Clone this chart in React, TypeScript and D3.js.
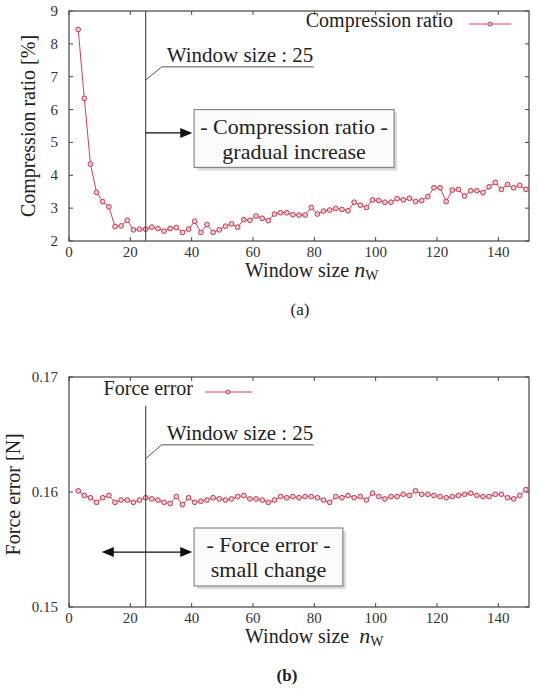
import * as d3 from 'd3';

// window sizes n_W (odd values 3..149)
const windowSizes = [
  3, 5, 7, 9, 11, 13, 15, 17, 19, 21,
  23, 25, 27, 29, 31, 33, 35, 37, 39, 41,
  43, 45, 47, 49, 51, 53, 55, 57, 59, 61,
  63, 65, 67, 69, 71, 73, 75, 77, 79, 81,
  83, 85, 87, 89, 91, 93, 95, 97, 99, 101,
  103, 105, 107, 109, 111, 113, 115, 117, 119, 121,
  123, 125, 127, 129, 131, 133, 135, 137, 139, 141,
  143, 145, 147, 149,
];

const compressionRatio = [
  8.44, 6.34, 4.34, 3.48, 3.2, 3.04, 2.44, 2.46, 2.63, 2.34,
  2.36, 2.36, 2.42, 2.38, 2.3, 2.38, 2.41, 2.26, 2.36, 2.6,
  2.26, 2.5, 2.26, 2.34, 2.45, 2.52, 2.42, 2.65, 2.63, 2.76,
  2.69, 2.62, 2.82, 2.86, 2.86, 2.8, 2.79, 2.79, 3.02, 2.82,
  2.91, 2.94, 2.99, 2.96, 2.92, 3.18, 3.09, 3.02, 3.25, 3.23,
  3.18, 3.18, 3.29, 3.25, 3.3, 3.2, 3.23, 3.35, 3.62, 3.62,
  3.2, 3.55, 3.57, 3.37, 3.53, 3.53, 3.47, 3.65, 3.78, 3.57,
  3.72, 3.62, 3.69, 3.57,
];

const forceError = [
  0.1601, 0.1597, 0.1595, 0.1591, 0.1595, 0.1597, 0.1591, 0.1593, 0.1593, 0.1591,
  0.1593, 0.1595, 0.1594, 0.1593, 0.1591, 0.159, 0.1596, 0.1589, 0.1595, 0.1591,
  0.1592, 0.1593, 0.1595, 0.1594, 0.1593, 0.1594, 0.1596, 0.1597, 0.1594, 0.1594,
  0.1593, 0.1591, 0.1593, 0.1596, 0.1595, 0.1596, 0.1595, 0.1596, 0.1596, 0.1595,
  0.1593, 0.1591, 0.1596, 0.1595, 0.1597, 0.1595, 0.1596, 0.1593, 0.1599, 0.1596,
  0.1594, 0.1596, 0.1596, 0.1598, 0.1597, 0.1601, 0.1598, 0.1598, 0.1597, 0.1596,
  0.1595, 0.1596, 0.1597, 0.1598, 0.1599, 0.1597, 0.1596, 0.1596, 0.1598, 0.1598,
  0.1595, 0.1594, 0.1597, 0.1602,
];

const xTicks = [0, 20, 40, 60, 80, 100, 120, 140];
const ratioTicks = [2, 3, 4, 5, 6, 7, 8, 9];
const errorTicks = [0.15, 0.16, 0.17];
const errorTickLabels = ['0.15', '0.16', '0.17'];

const FONT = "'Liberation Serif', 'Times New Roman', serif";
const LINE = '#e23a58';
const MARK_STROKE = '#a8344c';
const MARK_FILL = '#f3c2cb';
const AXIS = '#444';

const x = d3.scaleLinear().domain([0, 150]).range([69, 529]);

type PanelProps = {
  y: d3.ScaleLinear<number, number>;
  values: number[];
  yTicks: number[];
  yLabels: string[];
};

const Frame = ({ y, values, yTicks, yLabels }: PanelProps) => {
  const [y0, y1] = y.range();
  const line = d3
    .line<number>()
    .x((d, i) => x(windowSizes[i]))
    .y((d) => y(d));
  return (
    <g>
      <rect x={x(0)} y={y1} width={x(150) - x(0)} height={y0 - y1} fill="none" stroke={AXIS} strokeWidth={1.2} />
      {xTicks.map((t) => (
        <g key={t}>
          <line x1={x(t)} x2={x(t)} y1={y0} y2={y0 - 4} stroke={AXIS} />
          <line x1={x(t)} x2={x(t)} y1={y1} y2={y1 + 4} stroke={AXIS} />
          <text x={x(t)} y={y0 + 16} textAnchor="middle" fontSize={15} fill="#333">
            {t}
          </text>
        </g>
      ))}
      {yTicks.map((t, i) => (
        <g key={t}>
          <line x1={x(0)} x2={x(0) + 4} y1={y(t)} y2={y(t)} stroke={AXIS} />
          <line x1={x(150)} x2={x(150) - 4} y1={y(t)} y2={y(t)} stroke={AXIS} />
          <text x={x(0) - 11} y={y(t) + 5} textAnchor="end" fontSize={15} fill="#333">
            {yLabels[i]}
          </text>
        </g>
      ))}
      <path d={line(values) || ''} fill="none" stroke={LINE} strokeWidth={1} />
      {values.map((v, i) => (
        <circle key={i} cx={x(windowSizes[i])} cy={y(v)} r={2.4} fill={MARK_FILL} stroke={MARK_STROKE} strokeWidth={0.9} />
      ))}
    </g>
  );
};

const Arrow = ({ x1, x2, yy, both }: { x1: number; x2: number; yy: number; both?: boolean }) => (
  <g>
    <line x1={both ? x1 + 8 : x1} x2={x2 - 8} y1={yy} y2={yy} stroke="#111" strokeWidth={1.3} />
    <polygon points={`${x2},${yy} ${x2 - 12},${yy - 5} ${x2 - 12},${yy + 5}`} fill="#111" />
    {both && <polygon points={`${x1},${yy} ${x1 + 12},${yy - 5} ${x1 + 12},${yy + 5}`} fill="#111" />}
  </g>
);

const NoteBox = ({ x1, x2, ya, yb, lines }: { x1: number; x2: number; ya: number; yb: number; lines: string[] }) => (
  <g>
    <rect x={x1 + 3} y={ya + 3} width={x2 - x1} height={yb - ya} fill="#d8d8d8" />
    <rect x={x1} y={ya} width={x2 - x1} height={yb - ya} fill="#fbfbfb" stroke="#888" strokeWidth={1.2} />
    <text x={(x1 + x2) / 2} y={ya + 24} textAnchor="middle" fontSize={22} fill="#222">
      {lines[0]}
    </text>
    <text x={(x1 + x2) / 2} y={ya + 49} textAnchor="middle" fontSize={22} fill="#222">
      {lines[1]}
    </text>
  </g>
);

const XTitle = ({ yy, gap }: { yy: number; gap: string }) => (
  <text x={245} y={yy} fontSize={20} fill="#222">
    {'Window size' + gap}
    <tspan fontStyle="italic" fontSize={22}>n</tspan>
    <tspan fontSize={14} dy={3}>W</tspan>
  </text>
);

const App = () => {
  const yTop = d3.scaleLinear().domain([2, 9]).range([241, 11]);
  const yBot = d3.scaleLinear().domain([0.15, 0.17]).range([607, 377]);

  return (
    <svg width={538} height={689} style={{ position: 'absolute', left: 0, top: 0, background: '#fff' }} fontFamily={FONT}>
      {/* (a) compression ratio */}
      <Frame y={yTop} values={compressionRatio} yTicks={ratioTicks} yLabels={ratioTicks.map(String)} />
      <line x1={x(25)} x2={x(25)} y1={yTop(9)} y2={yTop(2)} stroke="#444" strokeWidth={1.1} />
      <polyline
        points={`${x(25)},${yTop(6.9)} ${x(25) + 16},${yTop(7.3)} ${x(25) + 168},${yTop(7.3)}`}
        fill="none"
        stroke="#555"
        strokeWidth={1}
      />
      <text x={x(25) + 21} y={yTop(7.3) - 5} fontSize={21} fill="#222">
        Window size : 25
      </text>
      <Arrow x1={x(25)} x2={x(40.2)} yy={yTop(5.29)} />
      <NoteBox x1={x(40.8)} x2={x(106)} ya={yTop(6.0)} yb={yTop(4.24)} lines={['- Compression ratio -', 'gradual increase']} />
      <text x={453} y={27} textAnchor="end" fontSize={20} fill="#222">
        Compression ratio
      </text>
      <line x1={469} x2={511} y1={24} y2={24} stroke={LINE} strokeWidth={1} />
      <circle cx={490} cy={24} r={2} fill={MARK_FILL} stroke={MARK_STROKE} strokeWidth={0.9} />
      <text transform={`translate(35, ${yTop(5.5)}) rotate(-90)`} textAnchor="middle" fontSize={20} fill="#222">
        Compression ratio [%]
      </text>
      <XTitle yy={277} gap=" " />
      <text x={300} y={315} textAnchor="middle" fontSize={17} fill="#222">
        (a)
      </text>

      {/* (b) force error */}
      <Frame y={yBot} values={forceError} yTicks={errorTicks} yLabels={errorTickLabels} />
      <line x1={x(25)} x2={x(25)} y1={yBot(0.1675)} y2={yBot(0.15)} stroke="#444" strokeWidth={1.1} />
      <polyline
        points={`${x(25)},${yBot(0.1629)} ${x(25) + 16},${yBot(0.1641)} ${x(25) + 168},${yBot(0.1641)}`}
        fill="none"
        stroke="#555"
        strokeWidth={1}
      />
      <text x={x(25) + 21} y={yBot(0.1641) - 5} fontSize={21} fill="#222">
        Window size : 25
      </text>
      <Arrow x1={x(10.7)} x2={x(40.2)} yy={yBot(0.15478)} both />
      <NoteBox x1={x(40.8)} x2={x(89.3)} ya={yBot(0.15687)} yb={yBot(0.15183)} lines={['- Force error -', 'small change']} />
      <text x={193} y={395} textAnchor="end" fontSize={20} fill="#222">
        Force error
      </text>
      <line x1={205} x2={252} y1={392} y2={392} stroke={LINE} strokeWidth={1} />
      <circle cx={228} cy={392} r={2} fill={MARK_FILL} stroke={MARK_STROKE} strokeWidth={0.9} />
      <text transform={`translate(20, ${yBot(0.1598)}) rotate(-90)`} textAnchor="middle" fontSize={20} fill="#222">
        Force error [N]
      </text>
      <XTitle yy={643} gap={'\u00a0\u00a0'} />
      <text x={287} y={681} textAnchor="middle" fontSize={17} fontWeight="bold" fill="#222">
        (b)
      </text>
    </svg>
  );
};

export default App;
